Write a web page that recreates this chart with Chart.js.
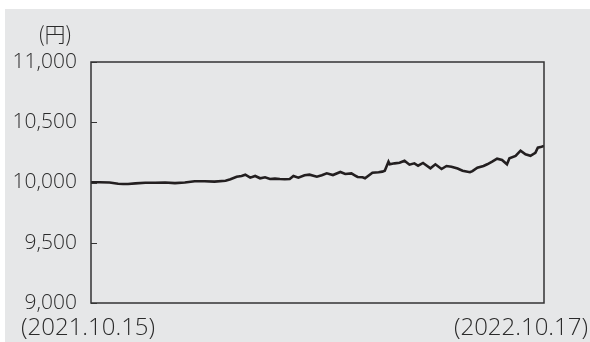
<!DOCTYPE html>
<html>
<head>
<meta charset="utf-8">
<script src="https://cdn.jsdelivr.net/npm/chart.js@4/dist/chart.umd.min.js"></script>
<style>
  html, body { margin: 0; padding: 0; background: #ffffff; }
  #panel { position: absolute; left: 5px; top: 9px; width: 585px; height: 333px; background: #e6e7e8; }
  #c { display: block; }
</style>
</head>
<body>
<div id="panel"><canvas id="c" width="585" height="333"></canvas></div>
<script>
// Days elapsed since 2021.10.15 and the NAV (yen) on each sampled day
const days = [0, 7, 15, 22, 26, 30, 36, 44, 52, 60, 68, 76, 84, 92, 100, 109, 113, 118, 122, 125,
  129, 133, 137, 141, 145, 149, 153, 157, 161, 164, 168, 173, 177, 183, 187, 191, 196, 202, 206, 211,
  214, 216, 220, 222, 228, 233, 236, 238, 241, 242, 246, 250, 254, 258, 262, 265, 269, 275, 279, 284,
  288, 292, 297, 301, 307, 309, 313, 318, 321, 325, 329, 333, 337, 339, 344, 348, 352, 356, 360, 362,
  365, 367];
const nav = [10002, 10002, 10000, 9990, 9988, 9988, 9993, 9998, 9998, 10000, 9995, 10000, 10010, 10010, 10007, 10015, 10027, 10048, 10054, 10065,
  10040, 10054, 10035, 10043, 10029, 10032, 10029, 10027, 10029, 10054, 10040, 10060, 10065, 10048, 10060, 10076, 10062, 10087, 10071, 10076,
  10058, 10046, 10043, 10035, 10081, 10085, 10090, 10098, 10173, 10151, 10159, 10164, 10181, 10148, 10159, 10139, 10162, 10118, 10151, 10112,
  10137, 10131, 10116, 10098, 10085, 10095, 10123, 10137, 10151, 10173, 10198, 10187, 10151, 10201, 10220, 10264, 10234, 10222, 10247, 10289,
  10297, 10303];
const dateLabels = ['(2021.10.15)', '(2022.10.17)'];
const unitLabel = '(円)';
const yMin = 9000, yMax = 11000, yStep = 500;

const FONT = '"Open Sans", "Noto Sans CJK JP", sans-serif';
const TEXT = '#2b2b2b';

// Frame around the plot area, short inner ticks and the corner labels
const framePlugin = {
  id: 'frame',
  afterDatasetsDraw(chart) {
    const { ctx, chartArea: a, scales } = chart;
    ctx.save();
    ctx.strokeStyle = '#333333';
    ctx.lineWidth = 1.5;
    ctx.strokeRect(a.left, a.top, a.right - a.left, a.bottom - a.top);
    ctx.lineWidth = 1;
    scales.y.ticks.forEach(t => {
      const y = Math.round(scales.y.getPixelForValue(t.value)) + 0.5;
      ctx.beginPath();
      ctx.moveTo(a.left, y);
      ctx.lineTo(a.left + 6, y);
      ctx.stroke();
    });
    ctx.fillStyle = TEXT;
    ctx.font = '300 24px ' + FONT;
    ctx.textBaseline = 'middle';
    ctx.textAlign = 'left';
    ctx.fillText(dateLabels[0], a.left - 70, a.bottom + 25);
    ctx.textAlign = 'right';
    ctx.fillText(dateLabels[1], a.right + 44, a.bottom + 25);
    ctx.textAlign = 'center';
    ctx.font = '300 21px "Noto Sans CJK JP", sans-serif';
    ctx.fillText(unitLabel, a.left - 36, a.top - 28);
    ctx.restore();
  }
};

new Chart(document.getElementById('c'), {
  type: 'line',
  data: {
    datasets: [{
      data: days.map((d, i) => ({ x: d, y: nav[i] })),
      borderColor: '#231f20',
      borderWidth: 2.6,
      pointRadius: 0,
      tension: 0,
      fill: false
    }]
  },
  options: {
    responsive: false,
    animation: false,
    layout: { padding: { left: 0, top: 53, right: 46, bottom: 39 } },
    plugins: { legend: { display: false }, tooltip: { enabled: false } },
    scales: {
      x: {
        type: 'linear',
        min: 0,
        max: 367,
        display: false
      },
      y: {
        min: yMin,
        max: yMax,
        grid: { display: false },
        border: { display: false },
        ticks: {
          stepSize: yStep,
          padding: 6,
          color: TEXT,
          font: { family: FONT, size: 21, weight: 300 },
          callback: v => v.toLocaleString('en-US')
        },
        afterFit(scale) { scale.width = 86; }
      }
    }
  },
  plugins: [framePlugin]
});
</script>
</body>
</html>
